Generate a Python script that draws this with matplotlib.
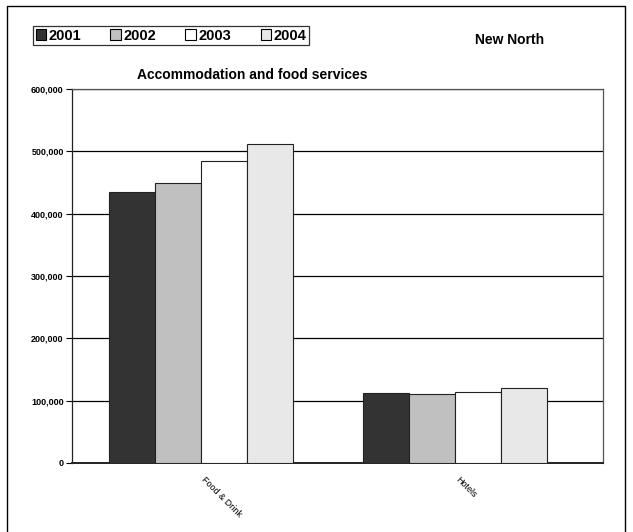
import matplotlib.pyplot as plt
import matplotlib.patches as mpatches
import numpy as np

plt.rcParams['font.family'] = ['Liberation Sans', 'DejaVu Sans']

# data
categories = ['Food & Drink', 'Hotels']
years = ['2001', '2002', '2003', '2004']
values = {
    '2001': [434000, 112000],
    '2002': [449000, 110000],
    '2003': [484000, 114000],
    '2004': [512000, 120000],
}
colors = ['#333333', '#c0c0c0', '#ffffff', '#e8e8e8']
yticks = [0, 100000, 200000, 300000, 400000, 500000, 600000]

fig = plt.figure(figsize=(6.33, 5.32), dpi=100)
ax = fig.add_axes([72/633, 1-463/532, (603-72)/633, (463-89)/532])

x = np.arange(len(categories))
w = 0.181
for i, yr in enumerate(years):
    ax.bar(x + (i - 1.5) * w, values[yr], width=w, color=colors[i],
           edgecolor='#222222', linewidth=0.8, zorder=3)

ax.set_xlim(-0.508, 1.583)
ax.set_ylim(0, 600000)
ax.set_yticks(yticks)
ax.set_yticklabels([f'{v:,}' for v in yticks], fontsize=6.5, fontweight='bold')
ax.yaxis.grid(True, color='black', linewidth=0.9, zorder=0)
ax.tick_params(axis='y', length=4, width=0.8, pad=2)
ax.set_xticks(x + 0.02)
ax.set_xticklabels(categories, fontsize=6.5, rotation=-45, ha='left',
                   rotation_mode='anchor')
ax.tick_params(axis='x', length=0, pad=9)
for s in ax.spines.values():
    s.set_color('#555555')
    s.set_linewidth(0.9)
ax.spines['bottom'].set_color('#222222')
ax.spines['bottom'].set_linewidth(1.4)
ax.spines['left'].set_color('#222222')

fig.text(252/633, 1-75/532, 'Accommodation and food services', fontsize=10,
         fontweight='bold', ha='center', va='center')
fig.text(510/633, 1-40/532, 'New North', fontsize=10, fontweight='bold',
         ha='center', va='center')

handles = [mpatches.Patch(facecolor=c, edgecolor='black', linewidth=0.8) for c in colors]
leg = fig.legend(handles, years, loc='center', ncol=4,
                 bbox_to_anchor=(171/633, 1-35.5/532), frameon=True, fancybox=False,
                 prop={'weight': 'bold', 'size': 10.5}, handlelength=0.75, handleheight=0.75,
                 handletextpad=0.15, columnspacing=2.0, borderpad=0.2, borderaxespad=0)
leg.get_frame().set_edgecolor('black')
leg.get_frame().set_linewidth(0.9)

# outer border
fig.add_artist(plt.Line2D([7/633, 7/633, 625/633, 625/633],
                          [0, 1-6/532, 1-6/532, 0], color='black', linewidth=1.0,
                          transform=fig.transFigure))

fig.savefig('out.png', dpi=100)
